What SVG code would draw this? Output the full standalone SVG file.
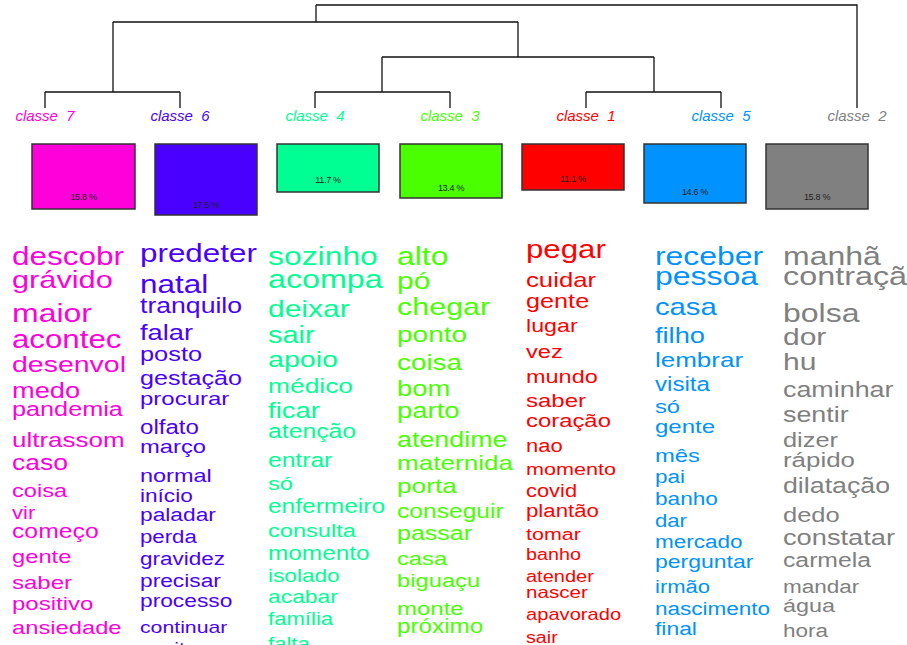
<svg xmlns="http://www.w3.org/2000/svg" width="907" height="645" viewBox="0 0 907 645">
<style>
.ln{stroke:#111;stroke-width:1.3;fill:none}
.lbl{font-family:"Liberation Sans",Arial,sans-serif;font-style:italic;font-size:15px;text-anchor:middle}
.box{stroke:#333;stroke-width:1.5}
.pct{font-family:"Liberation Sans",Arial,sans-serif;font-size:9px;fill:#222;text-anchor:middle;letter-spacing:-0.3px}
.w text{font-family:"Liberation Sans",Arial,sans-serif}
</style>
<defs>
<clipPath id="k7"><rect x="10" y="225" width="119" height="420"/></clipPath>
<clipPath id="k6"><rect x="138" y="225" width="120" height="420"/></clipPath>
<clipPath id="k4"><rect x="266" y="225" width="119" height="420"/></clipPath>
<clipPath id="k3"><rect x="395" y="225" width="120" height="420"/></clipPath>
<clipPath id="k1"><rect x="524" y="225" width="120" height="420"/></clipPath>
<clipPath id="k5"><rect x="653" y="225" width="120" height="420"/></clipPath>
<clipPath id="k2"><rect x="781" y="225" width="126" height="420"/></clipPath>
</defs>
<rect width="907" height="645" fill="#fff"/>
<g id="connectors">
<path class="ln" d="M316 5H857V108"/>
<path class="ln" d="M316 5V22M113 22H518"/>
<path class="ln" d="M113 22V92M45 92H180M45 92V108M180 92V108"/>
<path class="ln" d="M518 22V57M382 57H654"/>
<path class="ln" d="M382 57V92M315 92H450M315 92V108M450 92V108"/>
<path class="ln" d="M654 57V92M586 92H721M586 92V108M721 92V108"/>
</g>
<g id="classe7">
<text class="lbl" x="45" y="121" fill="#FF00DB" xml:space="preserve">classe  7</text>
<rect class="box" x="32" y="144" width="103" height="65" fill="#FF00DB"/>
<text class="pct" x="83.5" y="200">15.8 %</text>
<g clip-path="url(#k7)"><g class="w" fill="#FF00DB" transform="translate(12 0) scale(1.25 1)">
<text y="265" font-size="25.2">descobr</text>
<text y="288" font-size="24.6">grávido</text>
<text y="322" font-size="25.6">maior</text>
<text y="348" font-size="25">acontec</text>
<text y="372" font-size="22.8">desenvol</text>
<text y="398" font-size="21.8">medo</text>
<text y="416" font-size="20.2">pandemia</text>
<text y="447" font-size="20.8">ultrassom</text>
<text y="470" font-size="21.2">caso</text>
<text y="497" font-size="18.9">coisa</text>
<text y="519" font-size="17.6">vir</text>
<text y="538" font-size="19.8">começo</text>
<text y="563" font-size="19">gente</text>
<text y="589" font-size="19.2">saber</text>
<text y="610" font-size="19.2">positivo</text>
<text y="634" font-size="19">ansiedade</text>
</g></g>
</g>
<g id="classe6">
<text class="lbl" x="180" y="121" fill="#4900FF" xml:space="preserve">classe  6</text>
<rect class="box" x="155" y="144" width="102" height="71" fill="#4900FF"/>
<text class="pct" x="206" y="208">17.5 %</text>
<g clip-path="url(#k6)"><g class="w" fill="#4900FF" transform="translate(140 0) scale(1.25 1)">
<text y="262" font-size="25.1">predeter</text>
<text y="293" font-size="25.2">natal</text>
<text y="313" font-size="21.3">tranquilo</text>
<text y="340" font-size="21.8">falar</text>
<text y="361" font-size="20.3">posto</text>
<text y="385" font-size="20.1">gestação</text>
<text y="405" font-size="19.2">procurar</text>
<text y="434" font-size="19.3">olfato</text>
<text y="453" font-size="19">março</text>
<text y="482" font-size="18.8">normal</text>
<text y="502" font-size="18.1">início</text>
<text y="521" font-size="18.2">paladar</text>
<text y="543" font-size="17.8">perda</text>
<text y="565" font-size="18">gravidez</text>
<text y="587" font-size="18.2">precisar</text>
<text y="607" font-size="18.2">processo</text>
<text y="633" font-size="17">continuar</text>
<text y="654" font-size="17">aceitar</text>
</g></g>
</g>
<g id="classe4">
<text class="lbl" x="315" y="121" fill="#00FF92" xml:space="preserve">classe  4</text>
<rect class="box" x="277" y="144" width="102" height="48" fill="#00FF92"/>
<text class="pct" x="328" y="183">11.7 %</text>
<g clip-path="url(#k4)"><g class="w" fill="#00FF92" transform="translate(268 0) scale(1.25 1)">
<text y="265" font-size="25.5">sozinho</text>
<text y="288" font-size="25.8">acompa</text>
<text y="317" font-size="24">deixar</text>
<text y="343" font-size="23.2">sair</text>
<text y="367" font-size="22.9">apoio</text>
<text y="393" font-size="21.1">médico</text>
<text y="418" font-size="22">ficar</text>
<text y="438" font-size="19.8">atenção</text>
<text y="467" font-size="19.7">entrar</text>
<text y="490" font-size="19">só</text>
<text y="513" font-size="19.6">enfermeiro</text>
<text y="537" font-size="18.9">consulta</text>
<text y="560" font-size="19.5">momento</text>
<text y="582" font-size="18.1">isolado</text>
<text y="603" font-size="18.3">acabar</text>
<text y="625" font-size="17.7">família</text>
<text y="650" font-size="17.7">falta</text>
</g></g>
</g>
<g id="classe3">
<text class="lbl" x="450" y="121" fill="#49FF00" xml:space="preserve">classe  3</text>
<rect class="box" x="400" y="144" width="102" height="54" fill="#49FF00"/>
<text class="pct" x="451" y="191">13.4 %</text>
<g clip-path="url(#k3)"><g class="w" fill="#49FF00" transform="translate(397 0) scale(1.25 1)">
<text y="265" font-size="25.5">alto</text>
<text y="289" font-size="24">pó</text>
<text y="315" font-size="24.4">chegar</text>
<text y="342" font-size="22.4">ponto</text>
<text y="370" font-size="22.3">coisa</text>
<text y="396" font-size="21.9">bom</text>
<text y="418" font-size="22">parto</text>
<text y="447" font-size="21.5">atendime</text>
<text y="470" font-size="20.9">maternida</text>
<text y="493" font-size="21">porta</text>
<text y="518" font-size="19.7">conseguir</text>
<text y="540" font-size="20">passar</text>
<text y="565" font-size="19">casa</text>
<text y="587" font-size="19">biguaçu</text>
<text y="615" font-size="19.2">monte</text>
<text y="633" font-size="19.4">próximo</text>
</g></g>
</g>
<g id="classe1">
<text class="lbl" x="586" y="121" fill="#FF0000" xml:space="preserve">classe  1</text>
<rect class="box" x="522" y="144" width="102" height="46" fill="#FF0000"/>
<text class="pct" x="573" y="182">11.1 %</text>
<g clip-path="url(#k1)"><g class="w" fill="#FF0000" transform="translate(526 0) scale(1.25 1)">
<text y="258" font-size="25">pegar</text>
<text y="287" font-size="20.6">cuidar</text>
<text y="308" font-size="20.2">gente</text>
<text y="332" font-size="18.6">lugar</text>
<text y="358" font-size="18.9">vez</text>
<text y="383" font-size="18.8">mundo</text>
<text y="407" font-size="19.2">saber</text>
<text y="427" font-size="19.1">coração</text>
<text y="452" font-size="17.6">nao</text>
<text y="475" font-size="17.3">momento</text>
<text y="497" font-size="17.5">covid</text>
<text y="517" font-size="17.8">plantão</text>
<text y="540" font-size="17.2">tomar</text>
<text y="560" font-size="15.8">banho</text>
<text y="582" font-size="16">atender</text>
<text y="598" font-size="16.5">nascer</text>
<text y="620" font-size="16.1">apavorado</text>
<text y="643" font-size="15.8">sair</text>
</g></g>
</g>
<g id="classe5">
<text class="lbl" x="721" y="121" fill="#0092FF" xml:space="preserve">classe  5</text>
<rect class="box" x="644" y="144" width="102" height="59" fill="#0092FF"/>
<text class="pct" x="695" y="195">14.6 %</text>
<g clip-path="url(#k5)"><g class="w" fill="#0092FF" transform="translate(655 0) scale(1.25 1)">
<text y="265" font-size="25.5">receber</text>
<text y="285" font-size="25.6">pessoa</text>
<text y="315" font-size="23.4">casa</text>
<text y="343" font-size="21.8">filho</text>
<text y="367" font-size="20.8">lembrar</text>
<text y="391" font-size="19.3">visita</text>
<text y="413" font-size="19">só</text>
<text y="433" font-size="19.2">gente</text>
<text y="462" font-size="19">mês</text>
<text y="483" font-size="18">pai</text>
<text y="505" font-size="18.1">banho</text>
<text y="527" font-size="17.7">dar</text>
<text y="548" font-size="18">mercado</text>
<text y="568" font-size="18.4">perguntar</text>
<text y="593" font-size="17.6">irmão</text>
<text y="615" font-size="18">nascimento</text>
<text y="635" font-size="18.3">final</text>
</g></g>
</g>
<g id="classe2">
<text class="lbl" x="857" y="121" fill="#808080" xml:space="preserve">classe  2</text>
<rect class="box" x="766" y="144" width="102" height="65" fill="#808080"/>
<text class="pct" x="817" y="200">15.8 %</text>
<g clip-path="url(#k2)"><g class="w" fill="#808080" transform="translate(783 0) scale(1.25 1)">
<text y="265" font-size="25.6">manhã</text>
<text y="285" font-size="25.9">contraçã</text>
<text y="322" font-size="25.6">bolsa</text>
<text y="345" font-size="24">dor</text>
<text y="370" font-size="24">hu</text>
<text y="397" font-size="21.5">caminhar</text>
<text y="422" font-size="21.5">sentir</text>
<text y="447" font-size="20.3">dizer</text>
<text y="467" font-size="20.7">rápido</text>
<text y="493" font-size="21.4">dilatação</text>
<text y="522" font-size="20.4">dedo</text>
<text y="545" font-size="21.8">constatar</text>
<text y="567" font-size="19.8">carmela</text>
<text y="593" font-size="18">mandar</text>
<text y="612" font-size="18.7">água</text>
<text y="637" font-size="18">hora</text>
</g></g>
</g>
</svg>
